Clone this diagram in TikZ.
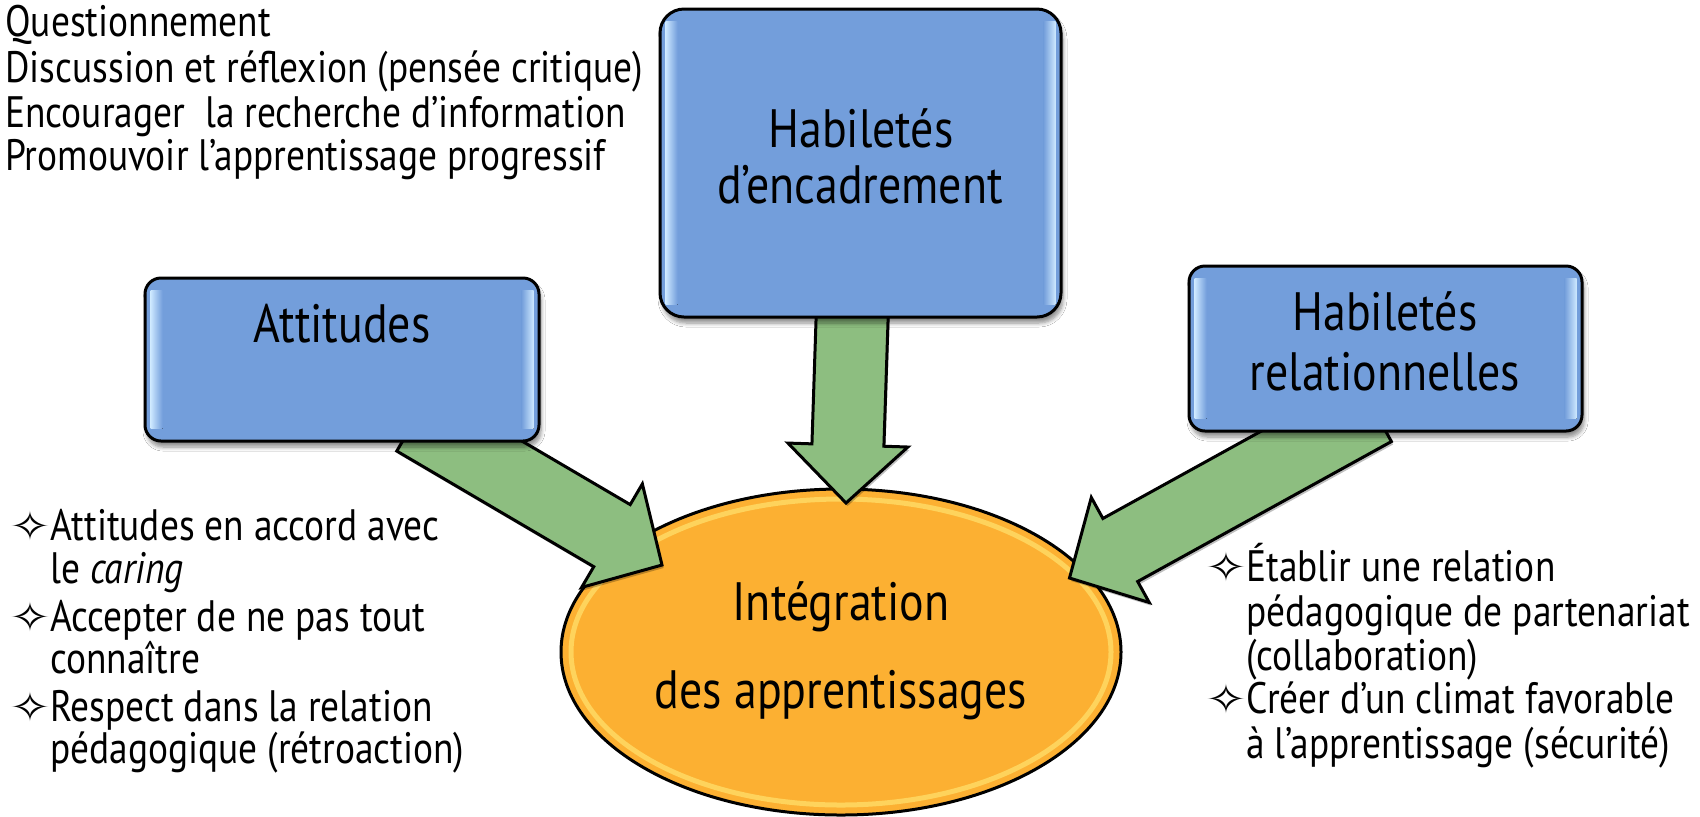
\documentclass[tikz,border=0pt]{standalone}
\usepackage{fontspec}
\setmainfont{PT Sans}[FakeStretch=0.85]
\newfontfamily\symfont{DejaVu Sans}
\usetikzlibrary{calc,shadows,shadows.blur,shapes.geometric}
\definecolor{boxblue}{RGB}{115,158,219}
\definecolor{hilite}{RGB}{205,232,255}
\definecolor{arrowgreen}{RGB}{141,190,128}
\definecolor{orangefill}{RGB}{252,176,50}
\definecolor{rimcol}{RGB}{255,226,110}
\newcommand{\bigtxt}{\fontsize{27pt}{30pt}\selectfont}
\newcommand{\toptxt}{\fontsize{22pt}{24pt}\selectfont}
\newcommand{\lsttxt}{\fontsize{22pt}{24pt}\selectfont}
\newcommand{\bulsym}{{\symfont\fontsize{20pt}{22pt}\selectfont\scalebox{1.25}[1]{✧}}}
\newcommand{\blkarrow}[2]{%
  \coordinate (#1-b) at ($(#2)!29pt!(#1)$);
  \draw[arrowstyle]
    ($(#1)!18pt!90:(#2)$) -- ($(#1-b)!18pt!90:(#2)$) -- ($(#1-b)!30pt!90:(#2)$)
    -- (#2) -- ($(#1-b)!30pt!-90:(#2)$) -- ($(#1-b)!18pt!-90:(#2)$)
    -- ($(#1)!18pt!-90:(#2)$) -- cycle;}
\newcommand{\bevel}[1]{%
  \fill[left color=hilite, right color=boxblue]
    ($(#1.north west)+(7,14)$) rectangle ($(#1.south west)+(19,-14)$);
  \fill[left color=boxblue, right color=hilite]
    ($(#1.north east)+(-19,14)$) rectangle ($(#1.south east)+(-7,-14)$);}
\begin{document}
\begin{tikzpicture}[x=0.5pt,y=-0.5pt,
  boxstyle/.style={draw=black, line width=1.5pt, fill=boxblue, rounded corners=8pt,
    inner sep=0pt, blur shadow={shadow xshift=1pt, shadow yshift=-3pt,
    shadow blur steps=6, shadow opacity=45}},
  arrowstyle/.style={draw=black, line width=1.5pt, fill=arrowgreen, line join=miter,
    drop shadow={shadow xshift=0.8pt, shadow yshift=-1.5pt, opacity=0.25, fill=black}},
  txt/.style={inner sep=0pt, text=black}]
\useasboundingbox[fill=white] (0,0) rectangle (1700,816);

% central ellipse
\node[ellipse, draw=black, line width=1.5pt, fill=orangefill, minimum width=280pt,
  minimum height=163pt, inner sep=0pt] (integ) at (841,652) {};
\draw[rimcol, line width=2.5pt, opacity=0.7] (integ.center) ellipse [x radius=270, y radius=153];

% arrows (start inside box, tip on ellipse)
\coordinate (sL) at (415,420);  \coordinate (tL) at (662,565);
\coordinate (sM) at (856,200);  \coordinate (tM) at (846,503);
\coordinate (sR) at (1374,410); \coordinate (tR) at (1069.5,578);
\blkarrow{sL}{tL}
\blkarrow{sM}{tM}
\blkarrow{sR}{tR}

% boxes
\node[boxstyle, minimum width=200.5pt, minimum height=154pt, rounded corners=12pt] (enc) at (860.5,163) {};
\node[boxstyle, minimum width=197pt, minimum height=81.5pt] (att) at (342,359.5) {};
\node[boxstyle, minimum width=196.5pt, minimum height=82.5pt] (rel) at (1385.5,348.5) {};
\bevel{enc}
\bevel{att}
\bevel{rel}

% box texts
\node[txt, anchor=base] (enc1) at (861,147) {\bigtxt Habiletés};
\node[txt, anchor=base] (enc2) at (860,203) {\bigtxt d’encadrement};
\node[txt, anchor=base] (att1) at (342,342) {\bigtxt Attitudes};
\node[txt, anchor=base] (rel1) at (1385,330) {\bigtxt Habiletés};
\node[txt, anchor=base] (rel2) at (1385,390) {\bigtxt relationnelles};
\node[txt, anchor=base] (int1) at (841,620) {\bigtxt Intégration};
\node[txt, anchor=base] (int2) at (841,708) {\bigtxt des apprentissages};

% top-left list
\node[txt, anchor=base west] (q1) at (5,36) {\toptxt Questionnement};
\node[txt, anchor=base west] (q2) at (5,82) {\toptxt Discussion et réflexion (pensée critique)};
\node[txt, anchor=base west] (q3) at (5,127) {\toptxt Encourager\ \ la recherche d’information};
\node[txt, anchor=base west] (q4) at (5,170) {\toptxt Promouvoir l’apprentissage progressif};

% left list
\node[txt, anchor=base west] (lb1) at (9,540) {\bulsym};
\node[txt, anchor=base west] (l1) at (50,540) {\lsttxt Attitudes en accord avec};
\node[txt, anchor=base west] (l2) at (50,583) {\lsttxt le \textit{caring}};
\node[txt, anchor=base west] (lb2) at (9,631) {\bulsym};
\node[txt, anchor=base west] (l3) at (50,631) {\lsttxt Accepter de ne pas tout};
\node[txt, anchor=base west] (l4) at (50,673) {\lsttxt connaître};
\node[txt, anchor=base west] (lb3) at (9,721) {\bulsym};
\node[txt, anchor=base west] (l5) at (50,721) {\lsttxt Respect dans la relation};
\node[txt, anchor=base west] (l6) at (50,763) {\lsttxt pédagogique (rétroaction)};

% right list
\node[txt, anchor=base west] (rb1) at (1205,581) {\bulsym};
\node[txt, anchor=base west] (r1) at (1246,581) {\lsttxt Établir une relation};
\node[txt, anchor=base west] (r2) at (1246,626) {\lsttxt pédagogique de partenariat};
\node[txt, anchor=base west] (r3) at (1246,670) {\lsttxt (collaboration)};
\node[txt, anchor=base west] (rb2) at (1205,713) {\bulsym};
\node[txt, anchor=base west] (r4) at (1246,713) {\lsttxt Créer d’un climat favorable};
\node[txt, anchor=base west] (r5) at (1246,758) {\lsttxt à l’apprentissage (sécurité)};
\end{tikzpicture}
\end{document}
